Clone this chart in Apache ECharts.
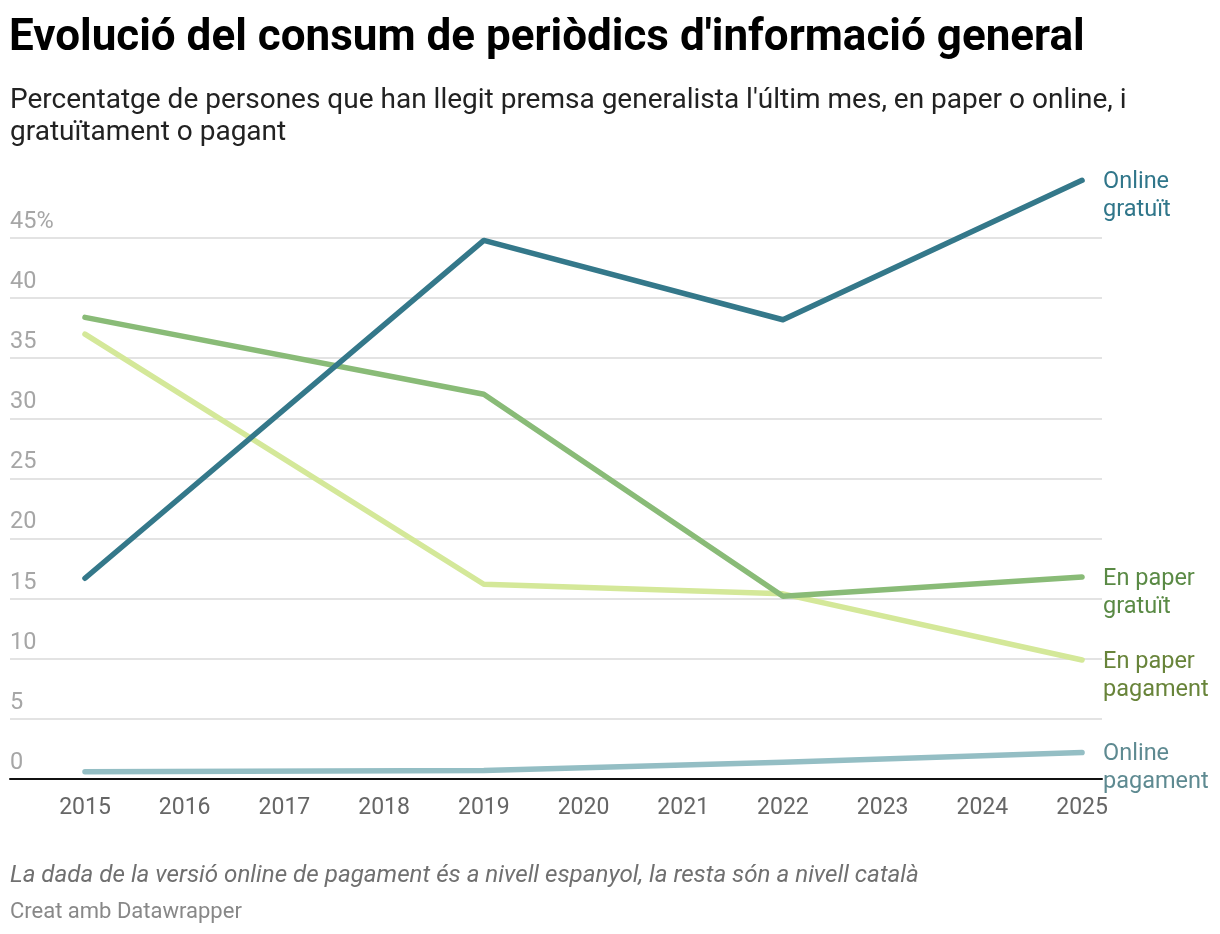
<!DOCTYPE html>
<html>
<head>
<meta charset="utf-8">
<script src="https://cdn.jsdelivr.net/npm/echarts@6/dist/echarts.min.js"></script>
<style>
  html, body { margin: 0; padding: 0; background: #fff; }
  #main { width: 1220px; height: 934px; }
</style>
</head>
<body>
<div id="main"></div>
<script>
// dades (llegides del gràfic)
var years = [2015, 2019, 2022, 2025];
var yearTicks = [2015, 2016, 2017, 2018, 2019, 2020, 2021, 2022, 2023, 2024, 2025];
var onlineGratuit = [16.7, 44.8, 38.2, 49.8];
var paperGratuit = [38.4, 32.0, 15.2, 16.8];
var paperPagament = [37.0, 16.2, 15.4, 9.9];
var onlinePagament = [0.6, 0.7, 1.4, 2.2];

function pairs(vals) {
  return years.map(function (y, i) { return [y, vals[i]]; });
}

function lineSeries(name, label, vals, color, labelColor) {
  return {
    name: name,
    type: 'line',
    data: pairs(vals),
    symbol: 'none',
    clip: false,
    lineStyle: { width: 5.5, color: color, cap: 'round', join: 'round' },
    itemStyle: { color: color },
    endLabel: {
      show: true,
      formatter: label,
      color: labelColor,
      fontFamily: 'Roboto',
      fontSize: 23.5,
      lineHeight: 28,
      distance: 21,
      verticalAlign: 'top',
      offset: [0, -12]
    },
    emphasis: { disabled: true }
  };
}

var myChart = echarts.init(document.getElementById('main'));
myChart.setOption({
  animation: false,
  textStyle: { fontFamily: 'Roboto' },
  title: [
    {
      text: "Evolució del consum de periòdics d'informació general",
      left: 9, top: 17, padding: 0,
      textStyle: { fontSize: 44, fontWeight: 'bold', color: '#000', fontFamily: 'Roboto' }
    },
    {
      text: "Percentatge de persones que han llegit premsa generalista l'últim mes, en paper o online, i\ngratuïtament o pagant",
      left: 10, top: 85, padding: 0,
      textStyle: { fontSize: 28, lineHeight: 32, color: '#222', fontWeight: 'normal', fontFamily: 'Roboto' }
    },
    {
      text: 'La dada de la versió online de pagament és a nivell espanyol, la resta són a nivell català',
      left: 10, top: 864, padding: 0,
      textStyle: { fontSize: 24.2, fontStyle: 'italic', color: '#707070', fontWeight: 'normal', fontFamily: 'Roboto' }
    },
    {
      text: 'Creat amb Datawrapper',
      left: 10, top: 901, padding: 0,
      textStyle: { fontSize: 22, color: '#888', fontWeight: 'normal', fontFamily: 'Roboto' }
    }
  ],
  grid: { left: 10, right: 118, top: 238, bottom: 155 },
  xAxis: {
    type: 'value',
    min: 2014.248,
    max: 2025.2,
    axisLine: { show: true, lineStyle: { color: '#111', width: 2 } },
    axisTick: { show: false },
    splitLine: { show: false },
    axisLabel: {
      customValues: yearTicks,
      color: '#666',
      fontSize: 23,
      margin: 18,
      formatter: function (v) { return String(v); }
    }
  },
  yAxis: {
    type: 'value',
    min: 0,
    max: 45,
    interval: 5,
    axisLine: { show: false },
    axisTick: { show: false },
    splitLine: { lineStyle: { color: '#e3e3e3', width: 2 } },
    axisLabel: {
      inside: true,
      margin: 0,
      color: '#a6a6a6',
      fontSize: 23.5,
      verticalAlign: 'bottom',
      padding: [0, 0, 4, 0],
      formatter: function (v) { return v === 45 ? '45%' : String(v); }
    }
  },
  series: [
    lineSeries('Online pagament', 'Online\npagament', onlinePagament, '#94bec4', '#5e8a91'),
    lineSeries('En paper pagament', 'En paper\npagament', paperPagament, '#d4e899', '#68843a'),
    lineSeries('En paper gratuït', 'En paper\ngratuït', paperGratuit, '#89bb77', '#5a8a45'),
    lineSeries('Online gratuït', 'Online\ngratuït', onlineGratuit, '#34788a', '#30768a')
  ]
});
</script>
</body>
</html>
